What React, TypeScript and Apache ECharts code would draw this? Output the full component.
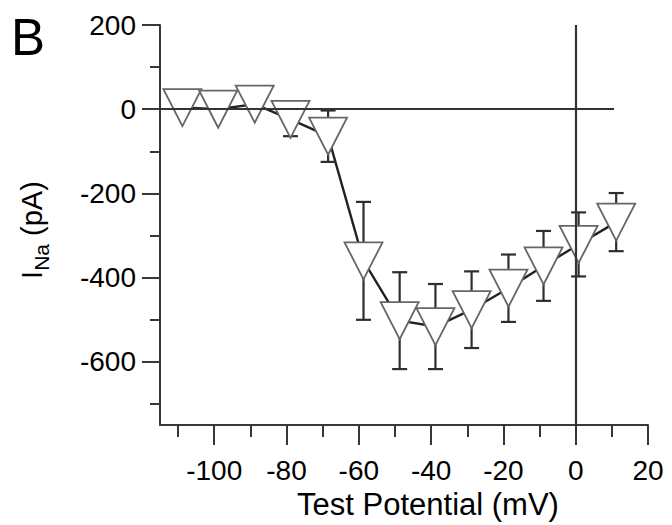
import React, { useEffect, useRef } from 'react';
import * as echarts from 'echarts';

// Test potentials (mV)
const voltages = [-108.8, -98.9, -88.8, -78.9, -68.5, -58.7, -48.7, -38.8, -28.8, -18.6, -8.9, 0.8, 11.2];
// Mean sodium current (pA)
const currents = [4, 0, 12, -24, -64, -360, -502, -516, -476, -425, -372, -321, -268];
// Error bar half-lengths (pA)
const errors = [12, 12, 12, 40, 61, 140, 115, 101, 91, 80, 83, 76, 69];

const xMajorTicks = [-100, -80, -60, -40, -20, 0, 20];
const xMinorTicks = [-110, -90, -70, -50, -30, -10, 10];
const yMajorTicks = [200, 0, -200, -400, -600];
const yMinorTicks = [100, -100, -300, -500, -700];

const xRange = [-115, 20];
const yRange = [-750, 200];
const zeroLineEnd = 10.6;
const vLineTop = 200;

export default function App() {
  const ref = useRef<HTMLDivElement>(null);

  useEffect(() => {
    const chart = echarts.init(ref.current!, null, { renderer: 'svg' });
    const axisColor = '#383838';
    const font = '"Liberation Sans", Arial, Helvetica, sans-serif';
    const points = voltages.map((v, i) => [v, currents[i]]);
    const errData = voltages.map((v, i) => [v, currents[i] - errors[i], currents[i] + errors[i]]);

    const tickStyle = { color: axisColor, width: 2 };

    chart.setOption({
      animation: false,
      backgroundColor: '#ffffff',
      grid: { left: 160, right: 24, top: 25, bottom: 98 },
      xAxis: [
        {
          type: 'value', min: xRange[0], max: xRange[1], position: 'bottom',
          axisLine: { show: true, onZero: false, lineStyle: { color: axisColor, width: 2 } },
          axisTick: { show: true, customValues: xMajorTicks, length: 20, lineStyle: tickStyle },
          axisLabel: { customValues: xMajorTicks, fontSize: 28, color: '#000', margin: 31, fontFamily: font },
          splitLine: { show: false },
          name: 'Test Potential (mV)', nameLocation: 'middle', nameGap: 48,
          nameTextStyle: { fontSize: 31, color: '#000', fontFamily: font, padding: [0, 0, 0, 48] },
        },
        {
          type: 'value', min: xRange[0], max: xRange[1], position: 'bottom',
          axisLine: { show: false, onZero: false },
          axisTick: { show: true, customValues: xMinorTicks, length: 12, lineStyle: tickStyle },
          axisLabel: { show: false },
          splitLine: { show: false },
        },
      ],
      yAxis: [
        {
          type: 'value', min: yRange[0], max: yRange[1], position: 'left',
          axisLine: { show: true, onZero: false, lineStyle: { color: axisColor, width: 2 } },
          axisTick: { show: true, customValues: yMajorTicks, length: 18, lineStyle: tickStyle },
          axisLabel: { customValues: yMajorTicks, fontSize: 28, color: '#000', margin: 24, fontFamily: font },
          splitLine: { show: false },
        },
        {
          type: 'value', min: yRange[0], max: yRange[1], position: 'left',
          axisLine: { show: false, onZero: false },
          axisTick: { show: true, customValues: yMinorTicks, length: 10, lineStyle: tickStyle },
          axisLabel: { show: false },
          splitLine: { show: false },
        },
      ],
      graphic: [
        {
          type: 'text', left: 11, top: 12, z: 100,
          style: { text: 'B', fontSize: 51, fill: '#000', fontFamily: font },
        },
        {
          type: 'text', x: 32, y: 230, rotation: Math.PI / 2, z: 100,
          style: {
            text: '{m|I}{s|Na}{m| (pA)}',
            align: 'center', verticalAlign: 'middle',
            fill: '#000', fontFamily: font,
            rich: {
              m: { fontSize: 29, lineHeight: 40, fill: '#000', fontFamily: font },
              s: { fontSize: 21, lineHeight: 21, verticalAlign: 'bottom', fill: '#000', fontFamily: font },
            },
          },
        },
      ],
      series: [
        {
          type: 'line', xAxisIndex: 0, yAxisIndex: 0, z: 1,
          data: points, showSymbol: false, symbol: 'none',
          lineStyle: { color: '#222', width: 2.4 },
          markLine: {
            silent: true, symbol: 'none', label: { show: false },
            lineStyle: { color: '#333', width: 2.2, type: 'solid' },
            data: [
              [{ coord: [xRange[0], 0] }, { coord: [zeroLineEnd, 0] }],
              [{ coord: [0, yRange[0]] }, { coord: [0, vLineTop] }],
            ],
          },
        },
        {
          type: 'custom', xAxisIndex: 0, yAxisIndex: 0, z: 2,
          data: errData,
          encode: { x: 0, y: [1, 2] },
          renderItem: (params: any, api: any) => {
            const x = api.value(0);
            const lo = api.value(1);
            const hi = api.value(2);
            const p1 = api.coord([x, hi]);
            const p2 = api.coord([x, lo]);
            const hw = 7.5;
            const style = { stroke: '#2e2e2e', lineWidth: 2.2 };
            return {
              type: 'group',
              children: [
                { type: 'line', shape: { x1: p1[0], y1: p1[1], x2: p2[0], y2: p2[1] }, style },
                { type: 'line', shape: { x1: p1[0] - hw, y1: p1[1], x2: p1[0] + hw, y2: p1[1] }, style },
                { type: 'line', shape: { x1: p2[0] - hw, y1: p2[1], x2: p2[0] + hw, y2: p2[1] }, style },
              ],
            };
          },
        },
        {
          type: 'scatter', xAxisIndex: 0, yAxisIndex: 0, z: 3,
          data: points,
          symbol: 'triangle', symbolRotate: 180, symbolSize: [38, 37],
          itemStyle: { color: '#ffffff', opacity: 1, borderColor: '#666666', borderWidth: 1.8 },
          emphasis: { disabled: true },
        },
      ],
    });

    return () => chart.dispose();
  }, []);

  return <div ref={ref} style={{ position: 'absolute', left: 0, top: 0, width: 672, height: 525 }} />;
}
